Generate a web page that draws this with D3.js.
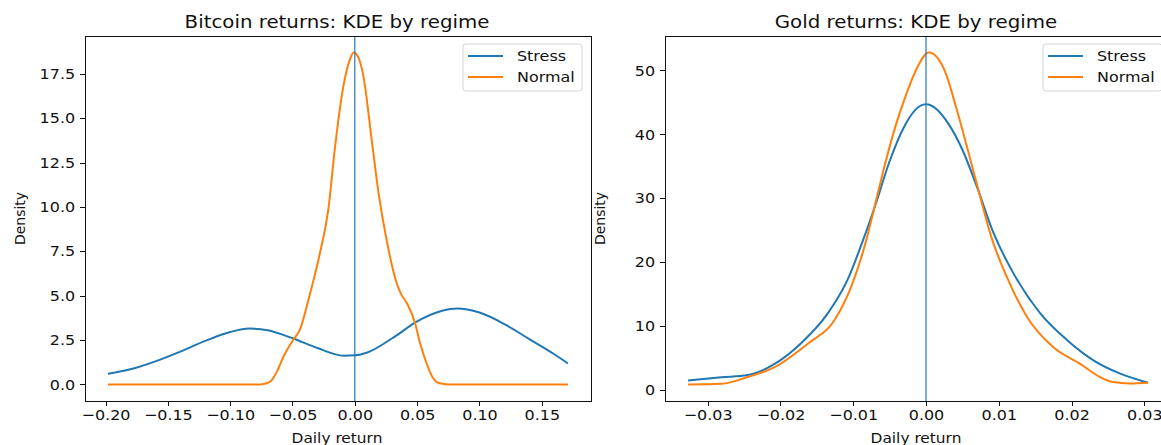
<!DOCTYPE html>
<html lang="en">
<head>
	<meta charset="utf-8">
	<title>KDE by regime</title>
	<script type="text/javascript" src="https://d3js.org/d3.v7.min.js"></script>
	<style type="text/css">
	body{
		margin: 0;
		background: white;
	}
	text{
		font-family: "DejaVu Sans", sans-serif;
		fill: #111;
	}
	.axis text{
		font-size: 14.5px;
	}
	.axis path,
	.axis line{
		stroke: #111;
		shape-rendering: crispEdges;
	}
	</style>
</head>
<body>
<script type="text/javascript">

// ---- data ----
var btcStressX = [-0.198, -0.18, -0.16, -0.14, -0.12, -0.10, -0.085, -0.07, -0.05, -0.03, -0.009, 0.00, 0.01, 0.03, 0.05, 0.07, 0.082, 0.10, 0.12, 0.14, 0.16, 0.171];
var btcStressY = [0.60, 0.85, 1.30, 1.85, 2.45, 2.95, 3.15, 3.05, 2.60, 2.05, 1.62, 1.64, 1.80, 2.60, 3.55, 4.15, 4.28, 4.05, 3.40, 2.55, 1.70, 1.18];

var btcNormalX = [-0.198, -0.10, -0.076, -0.070, -0.066, -0.062, -0.057, -0.050, -0.044, -0.036, -0.028, -0.021, -0.016, -0.0092, -0.004, -0.001, 0.003, 0.0068, 0.0135, 0.019, 0.0256, 0.0336, 0.037, 0.0416, 0.0483, 0.0523, 0.056, 0.062, 0.068, 0.075, 0.171];
var btcNormalY = [0.0, 0.0, 0.0, 0.08, 0.3, 0.8, 1.6, 2.45, 3.1, 5.1, 7.4, 10.0, 13.3, 16.8, 18.3, 18.7, 18.4, 17.4, 13.8, 10.8, 8.1, 5.7, 5.1, 4.6, 3.46, 2.33, 1.5, 0.45, 0.06, 0.0, 0.0];

var goldStressX = [-0.0327, -0.0281, -0.0245, -0.0208, -0.0172, -0.0135, -0.0108, -0.0087, -0.0070, -0.0050, -0.0030, -0.0015, 0.0000, 0.0015, 0.0030, 0.0050, 0.0070, 0.0093, 0.0120, 0.0157, 0.0194, 0.0230, 0.0267, 0.0305];
var goldStressY = [1.52, 2.0, 2.35, 4.1, 7.3, 12.0, 17.2, 23.3, 28.8, 35.8, 41.2, 43.8, 44.7, 43.9, 41.8, 37.6, 31.8, 24.5, 18.3, 12.0, 7.8, 4.66, 2.57, 1.16];

var goldNormalX = [-0.0327, -0.0281, -0.0245, -0.0208, -0.0162, -0.0126, -0.0103, -0.0082, -0.0070, -0.0056, -0.0040, -0.0028, -0.0014, 0.0004, 0.0027, 0.0041, 0.0066, 0.0091, 0.0111, 0.0139, 0.0175, 0.0212, 0.0239, 0.0257, 0.0280, 0.0305];
var goldNormalY = [0.89, 1.0, 2.04, 3.6, 7.3, 10.9, 16.1, 23.5, 29.0, 35.5, 42.0, 46.0, 50.0, 52.8, 49.6, 44.4, 33.9, 23.5, 17.7, 11.4, 6.7, 4.1, 2.04, 1.25, 1.05, 1.16];

var btcXTicks = [-0.20, -0.15, -0.10, -0.05, 0.00, 0.05, 0.10, 0.15];
var btcYTicks = [0, 2.5, 5, 7.5, 10, 12.5, 15, 17.5];
var goldXTicks = [-0.03, -0.02, -0.01, 0.00, 0.01, 0.02, 0.03];
var goldYTicks = [0, 10, 20, 30, 40, 50];

var seriesNames = ["Stress", "Normal"];
var colors = ["#1f77b4", "#ff7f0e"];

var w = 1161;
var h = 445;
var plotTop = 36, plotBottom = 401;
var stretch = "scale(1.1,1)";   // the reference text is a bit wide

var svg = d3.select("body")
            .append("svg")
            .attr("width", w)
            .attr("height", h)
            .style("background-color", "white");

// matplotlib style 5% padding around the data
function padded(lo, hi){
	var p = (hi - lo) * 0.05;
	return [lo - p, hi + p];
}

function drawPanel(opt){
	var allX = opt.series[0].x.concat(opt.series[1].x);
	var allY = opt.series[0].y.concat(opt.series[1].y);

	var xScale = d3.scaleLinear()
	               .domain(padded(d3.min(allX), d3.max(allX)))
	               .range([opt.left, opt.right]);
	var yScale = d3.scaleLinear()
	               .domain(padded(d3.min(allY), d3.max(allY)))
	               .range([plotBottom, plotTop]);

	var g = svg.append("g");

	var clipId = "clip" + opt.left;
	g.append("clipPath").attr("id", clipId)
	 .append("rect")
	 .attr("x", opt.left).attr("y", plotTop)
	 .attr("width", opt.right - opt.left).attr("height", plotBottom - plotTop);

	var plot = g.append("g").attr("clip-path", "url(#" + clipId + ")");

	var line = d3.line()
	             .x(function(d){ return xScale(d[0]); })
	             .y(function(d){ return yScale(d[1]); })
	             .curve(d3.curveMonotoneX);

	opt.series.forEach(function(s, i){
		var pts = s.x.map(function(v, j){ return [v, s.y[j]]; });
		plot.append("path")
		    .datum(pts)
		    .attr("d", line)
		    .attr("fill", "none")
		    .attr("stroke", colors[i])
		    .attr("stroke-width", 2);
	});

	// vertical line at zero
	plot.append("line")
	    .attr("x1", xScale(0)).attr("x2", xScale(0))
	    .attr("y1", plotTop).attr("y2", plotBottom)
	    .attr("stroke", "#1f77b4")
	    .attr("stroke-width", 1.2);

	var xAxis = d3.axisBottom(xScale)
	              .tickValues(opt.xTicks)
	              .tickFormat(d3.format(".2f"))
	              .tickSizeInner(5)
	              .tickSizeOuter(0)
	              .tickPadding(4);
	var yAxis = d3.axisLeft(yScale)
	              .tickValues(opt.yTicks)
	              .tickFormat(d3.format(opt.yFormat))
	              .tickSizeInner(5)
	              .tickSizeOuter(0)
	              .tickPadding(4);

	var gx = g.append("g")
	 .attr("class", "axis")
	 .attr("transform", "translate(0," + plotBottom + ")")
	 .call(xAxis);
	gx.select(".domain").remove();
	gx.selectAll("text").attr("transform", stretch);

	var gy = g.append("g")
	 .attr("class", "axis")
	 .attr("transform", "translate(" + opt.left + ",0)")
	 .call(yAxis);
	gy.select(".domain").remove();
	gy.selectAll("text").attr("transform", stretch);

	// frame
	g.append("rect")
	 .attr("x", opt.left).attr("y", plotTop)
	 .attr("width", opt.right - opt.left).attr("height", plotBottom - plotTop)
	 .attr("fill", "none")
	 .attr("stroke", "#111")
	 .attr("stroke-width", 1)
	 .attr("shape-rendering", "crispEdges");

	var cx = opt.titleX;
	g.append("text")
	 .attr("transform", "translate(" + cx + ",28) " + stretch)
	 .attr("text-anchor", "middle")
	 .style("font-size", "18px")
	 .text(opt.title);

	g.append("text")
	 .attr("transform", "translate(" + cx + ",443) " + stretch)
	 .attr("text-anchor", "middle")
	 .style("font-size", "14px")
	 .text("Daily return");

	g.append("text")
	 .attr("transform", "translate(" + (opt.left - 60) + "," + ((plotTop + plotBottom) / 2) + ") rotate(-90)")
	 .attr("text-anchor", "middle")
	 .style("font-size", "14px")
	 .text("Density");

	// legend
	var lx = opt.legendX, ly = 44;
	var leg = g.append("g");
	leg.append("rect")
	   .attr("x", lx).attr("y", ly)
	   .attr("width", 119).attr("height", 47)
	   .attr("rx", 3)
	   .attr("fill", "white")
	   .attr("fill-opacity", 0.8)
	   .attr("stroke", "#d5d5d5");
	seriesNames.forEach(function(name, i){
		var yy = ly + 12 + i * 21;
		leg.append("line")
		   .attr("x1", lx + 5).attr("x2", lx + 40)
		   .attr("y1", yy).attr("y2", yy)
		   .attr("stroke", colors[i])
		   .attr("stroke-width", 2);
		leg.append("text")
		   .attr("transform", "translate(" + (lx + 54) + "," + (yy + 5) + ") " + stretch)
		   .style("font-size", "14.5px")
		   .text(name);
	});
}

drawPanel({
	title: "Bitcoin returns: KDE by regime",
	left: 85, right: 591, titleX: 337,
	series: [{x: btcStressX, y: btcStressY}, {x: btcNormalX, y: btcNormalY}],
	xTicks: btcXTicks, yTicks: btcYTicks, yFormat: ".1f",
	legendX: 463
});

drawPanel({
	title: "Gold returns: KDE by regime",
	left: 665, right: 1171, titleX: 916,
	series: [{x: goldStressX, y: goldStressY}, {x: goldNormalX, y: goldNormalY}],
	xTicks: goldXTicks, yTicks: goldYTicks, yFormat: "d",
	legendX: 1043
});

</script>
</body>
</html>
